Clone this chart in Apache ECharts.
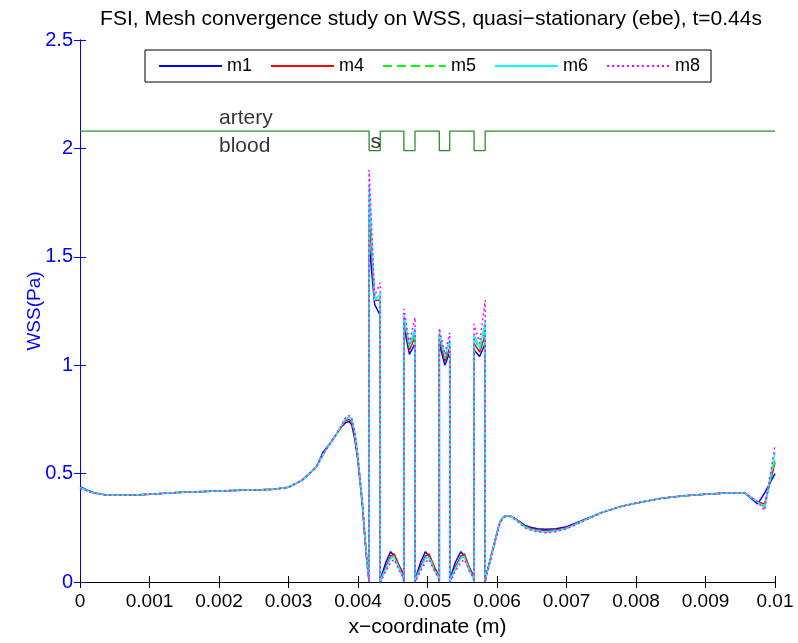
<!DOCTYPE html>
<html>
<head>
<meta charset="utf-8">
<script src="https://cdn.jsdelivr.net/npm/echarts@6/dist/echarts.min.js"></script>
<style>
  html, body { margin: 0; padding: 0; background: #fff; }
  #main { width: 798px; height: 643px; }
</style>
</head>
<body>
<div id="main"></div>
<script>
// x positions along the wall (m): upstream part, struts, downstream part
const xs = [0, 0.0001, 0.0002, 0.0004, 0.0007, 0.001, 0.0014, 0.0018, 0.0022, 0.0026,
  0.0028, 0.003, 0.0031, 0.0032, 0.0033, 0.0034, 0.0035, 0.0036, 0.0037, 0.00376,
  0.00382, 0.00387, 0.00391, 0.00395, 0.00399, 0.00403, 0.00407, 0.0041, 0.00413,
  // struts
  0.00416, 0.00416, 0.00424, 0.00432, 0.00432,
  0.00434, 0.0044, 0.00447, 0.00452, 0.0046, 0.00465, 0.00466,
  0.00466, 0.00474, 0.00482, 0.00482,
  0.00484, 0.0049, 0.00497, 0.00502, 0.0051, 0.00516, 0.00517,
  0.00517, 0.00525, 0.00532, 0.00532,
  0.00534, 0.0054, 0.00548, 0.00553, 0.0056, 0.00566, 0.00567,
  0.00567, 0.00575, 0.00583, 0.00583,
  // downstream
  0.00585, 0.0059, 0.00595, 0.006, 0.00604, 0.00609, 0.00614, 0.00619, 0.00625, 0.00632,
  0.0064, 0.00648, 0.00658, 0.0067, 0.00685, 0.007, 0.0072, 0.0075, 0.0078, 0.0081,
  0.0084, 0.0087, 0.009, 0.0093, 0.00957, 0.00975, 0.00985, 0.01];

const m1 = [0.44, 0.425, 0.412, 0.40, 0.40, 0.405, 0.413, 0.418, 0.422, 0.425,
  0.428, 0.437, 0.453, 0.471, 0.50, 0.53, 0.60, 0.64, 0.687, 0.715,
  0.735, 0.74, 0.725, 0.665, 0.58, 0.46, 0.33, 0.20, 0.09,
  0, 1.56, 1.28, 1.23, 0,
  0.03, 0.09, 0.14, 0.12, 0.07, 0.04, 0,
  1.18, 1.05, 1.10, 0,
  0.03, 0.09, 0.14, 0.12, 0.06, 0.03, 0,
  1.10, 1.00, 1.06, 0,
  0.03, 0.09, 0.14, 0.12, 0.06, 0.03, 0,
  1.07, 1.04, 1.10, 0,
  0.04, 0.10, 0.165, 0.227, 0.276, 0.30, 0.306, 0.305, 0.295, 0.28,
  0.262, 0.253, 0.246, 0.243, 0.246, 0.255, 0.28, 0.32, 0.35, 0.37,
  0.388, 0.398, 0.405, 0.41, 0.41, 0.36, 0.41, 0.50];

const m4 = [0.435, 0.422, 0.41, 0.40, 0.40, 0.405, 0.413, 0.418, 0.422, 0.425,
  0.428, 0.437, 0.453, 0.471, 0.50, 0.53, 0.59, 0.64, 0.687, 0.717,
  0.745, 0.75, 0.74, 0.68, 0.59, 0.47, 0.33, 0.20, 0.09,
  0, 1.70, 1.30, 1.30, 0,
  0.02, 0.07, 0.12, 0.13, 0.07, 0.04, 0,
  1.20, 1.07, 1.13, 0,
  0.02, 0.07, 0.12, 0.13, 0.07, 0.03, 0,
  1.12, 1.02, 1.08, 0,
  0.02, 0.07, 0.12, 0.13, 0.07, 0.03, 0,
  1.10, 1.06, 1.14, 0,
  0.04, 0.10, 0.162, 0.225, 0.274, 0.299, 0.306, 0.305, 0.294, 0.278,
  0.258, 0.248, 0.24, 0.236, 0.24, 0.25, 0.278, 0.32, 0.35, 0.37,
  0.388, 0.398, 0.405, 0.41, 0.41, 0.37, 0.36, 0.55];

const m5 = [0.435, 0.422, 0.41, 0.40, 0.40, 0.405, 0.413, 0.418, 0.422, 0.425,
  0.428, 0.437, 0.453, 0.471, 0.50, 0.53, 0.59, 0.64, 0.687, 0.72,
  0.75, 0.758, 0.748, 0.69, 0.60, 0.47, 0.34, 0.20, 0.09,
  0, 1.78, 1.30, 1.31, 0,
  0.02, 0.06, 0.11, 0.12, 0.06, 0.03, 0,
  1.22, 1.08, 1.15, 0,
  0.02, 0.06, 0.11, 0.12, 0.06, 0.02, 0,
  1.14, 1.03, 1.10, 0,
  0.02, 0.06, 0.11, 0.12, 0.06, 0.02, 0,
  1.13, 1.07, 1.17, 0,
  0.035, 0.095, 0.16, 0.223, 0.273, 0.299, 0.306, 0.305, 0.293, 0.276,
  0.255, 0.245, 0.236, 0.232, 0.237, 0.248, 0.277, 0.32, 0.35, 0.37,
  0.388, 0.398, 0.405, 0.41, 0.41, 0.37, 0.35, 0.56];

const m6 = [0.435, 0.422, 0.41, 0.40, 0.40, 0.405, 0.413, 0.418, 0.422, 0.425,
  0.428, 0.437, 0.453, 0.471, 0.50, 0.53, 0.59, 0.64, 0.687, 0.72,
  0.752, 0.762, 0.752, 0.695, 0.60, 0.475, 0.34, 0.21, 0.09,
  0, 1.83, 1.30, 1.33, 0,
  0.02, 0.06, 0.11, 0.115, 0.055, 0.02, 0,
  1.23, 1.09, 1.17, 0,
  0.02, 0.06, 0.11, 0.115, 0.055, 0.02, 0,
  1.15, 1.04, 1.12, 0,
  0.02, 0.06, 0.11, 0.115, 0.055, 0.02, 0,
  1.14, 1.08, 1.20, 0,
  0.035, 0.095, 0.16, 0.222, 0.272, 0.298, 0.305, 0.304, 0.292, 0.275,
  0.253, 0.243, 0.234, 0.23, 0.235, 0.247, 0.276, 0.32, 0.35, 0.37,
  0.388, 0.398, 0.405, 0.41, 0.41, 0.37, 0.34, 0.60];

const m8 = [0.43, 0.42, 0.41, 0.40, 0.40, 0.405, 0.413, 0.418, 0.422, 0.425,
  0.428, 0.437, 0.453, 0.471, 0.50, 0.53, 0.59, 0.64, 0.687, 0.722,
  0.758, 0.768, 0.758, 0.70, 0.61, 0.48, 0.345, 0.21, 0.09,
  0, 1.90, 1.32, 1.38, 0,
  0.01, 0.05, 0.09, 0.105, 0.05, 0.02, 0,
  1.26, 1.10, 1.22, 0,
  0.01, 0.05, 0.09, 0.105, 0.05, 0.02, 0,
  1.17, 1.05, 1.15, 0,
  0.01, 0.05, 0.09, 0.105, 0.05, 0.02, 0,
  1.19, 1.10, 1.30, 0,
  0.03, 0.09, 0.155, 0.218, 0.27, 0.296, 0.303, 0.302, 0.29, 0.272,
  0.25, 0.24, 0.231, 0.227, 0.232, 0.245, 0.274, 0.318, 0.35, 0.37,
  0.388, 0.398, 0.405, 0.41, 0.41, 0.37, 0.33, 0.63];

// artery / blood interface with the stent struts (s)
const wallX = [0, 0.00416, 0.00416, 0.00432, 0.00432, 0.00466, 0.00466, 0.00482, 0.00482,
  0.00517, 0.00517, 0.00532, 0.00532, 0.00567, 0.00567, 0.00583, 0.00583, 0.01];
const wallY = [2.08, 2.08, 1.99, 1.99, 2.08, 2.08, 1.99, 1.99, 2.08,
  2.08, 1.99, 1.99, 2.08, 2.08, 1.99, 1.99, 2.08, 2.08];

const labels = [
  { name: 'artery', x: 0.002, y: 2.14 },
  { name: 'blood', x: 0.002, y: 2.01 },
  { name: 's', x: 0.00418, y: 2.03 }
];

const names = ['m1', 'm4', 'm5', 'm6', 'm8'];
const colors = ['#0000ff', '#ff0000', '#00ff00', '#00ffff', '#ff00ff'];
const dashes = ['solid', 'solid', [9, 5], 'solid', [2, 3]];
const values = [m1, m4, m5, m6, m8];

const font = 'Liberation Sans, Arial, sans-serif';
const chart = echarts.init(document.getElementById('main'));

const series = [{
  name: 'wall',
  type: 'line',
  data: wallX.map((x, i) => [x, wallY[i]]),
  symbol: 'none',
  lineStyle: { color: '#2a8f2a', width: 1.3 },
  silent: true,
  z: 1
}, {
  name: 'labels',
  type: 'scatter',
  data: labels.map(l => ({ name: l.name, value: [l.x, l.y] })),
  symbolSize: 0,
  label: {
    show: true, position: 'right', distance: 0,
    formatter: p => p.name,
    color: '#000', fontFamily: font, fontSize: 21
  },
  silent: true
}];
names.forEach((n, k) => {
  series.push({
    name: n,
    type: 'line',
    data: xs.map((x, i) => [x, values[k][i]]),
    symbol: 'none',
    lineStyle: { color: colors[k], width: 1.5, type: dashes[k] },
    itemStyle: { color: colors[k] },
    z: 2 + k
  });
});

const option = {
  animation: false,
  backgroundColor: '#fff',
  title: {
    text: 'FSI, Mesh convergence study on WSS, quasi\u2212stationary (ebe), t=0.44s',
    left: 426, top: 4, textAlign: 'center',
    textStyle: { fontFamily: font, fontSize: 21, fontWeight: 'normal', color: '#000' }
  },
  legend: {
    data: names,
    left: 145, top: 50,
    padding: [7, 11, 7, 13],
    itemWidth: 63, itemHeight: 18, itemGap: 18,
    itemStyle: { opacity: 0 },
    borderColor: '#000', borderWidth: 1,
    backgroundColor: '#fff',
    textStyle: { fontFamily: font, fontSize: 18, color: '#000' }
  },
  grid: { left: 80, right: 23, top: 40, bottom: 61 },
  xAxis: [{
    type: 'value', min: 0, max: 0.01, interval: 0.001,
    name: 'x\u2212coordinate (m)', nameLocation: 'middle', nameGap: 35,
    nameMoveOverlap: false,
    nameTextStyle: { fontFamily: font, fontSize: 21, color: '#000' },
    axisLine: { lineStyle: { color: '#000', width: 1 } },
    axisTick: { inside: true, length: 6, lineStyle: { color: '#000' } },
    axisLabel: { fontFamily: font, fontSize: 19, color: '#000', margin: 10 },
    splitLine: { show: false }
  }, {
    type: 'value', min: 0, max: 0.01, interval: 0.001, position: 'top',
    axisLine: { lineStyle: { color: '#000', width: 1 } },
    axisTick: { inside: true, length: 6, lineStyle: { color: '#000' } },
    axisLabel: { show: false },
    splitLine: { show: false }
  }],
  yAxis: [{
    type: 'value', min: 0, max: 2.5, interval: 0.5,
    name: 'WSS(Pa)', nameLocation: 'middle', nameGap: 36,
    nameMoveOverlap: false,
    nameTextStyle: { fontFamily: font, fontSize: 19, color: '#0000ff' },
    axisLine: { lineStyle: { color: '#0000ff', width: 1 } },
    axisTick: { inside: true, length: 6, lineStyle: { color: '#0000ff' } },
    axisLabel: { fontFamily: font, fontSize: 20, color: '#0000ff', margin: 7 },
    splitLine: { show: false }
  }, {
    type: 'value', min: 0, max: 2.5, interval: 0.5, position: 'right',
    axisLine: { show: true, lineStyle: { color: '#0000ff', width: 1 } },
    axisTick: { inside: true, length: 6, lineStyle: { color: '#0000ff' } },
    axisLabel: { show: false },
    splitLine: { show: false }
  }],
  series: series
};

chart.setOption(option);
</script>
</body>
</html>
